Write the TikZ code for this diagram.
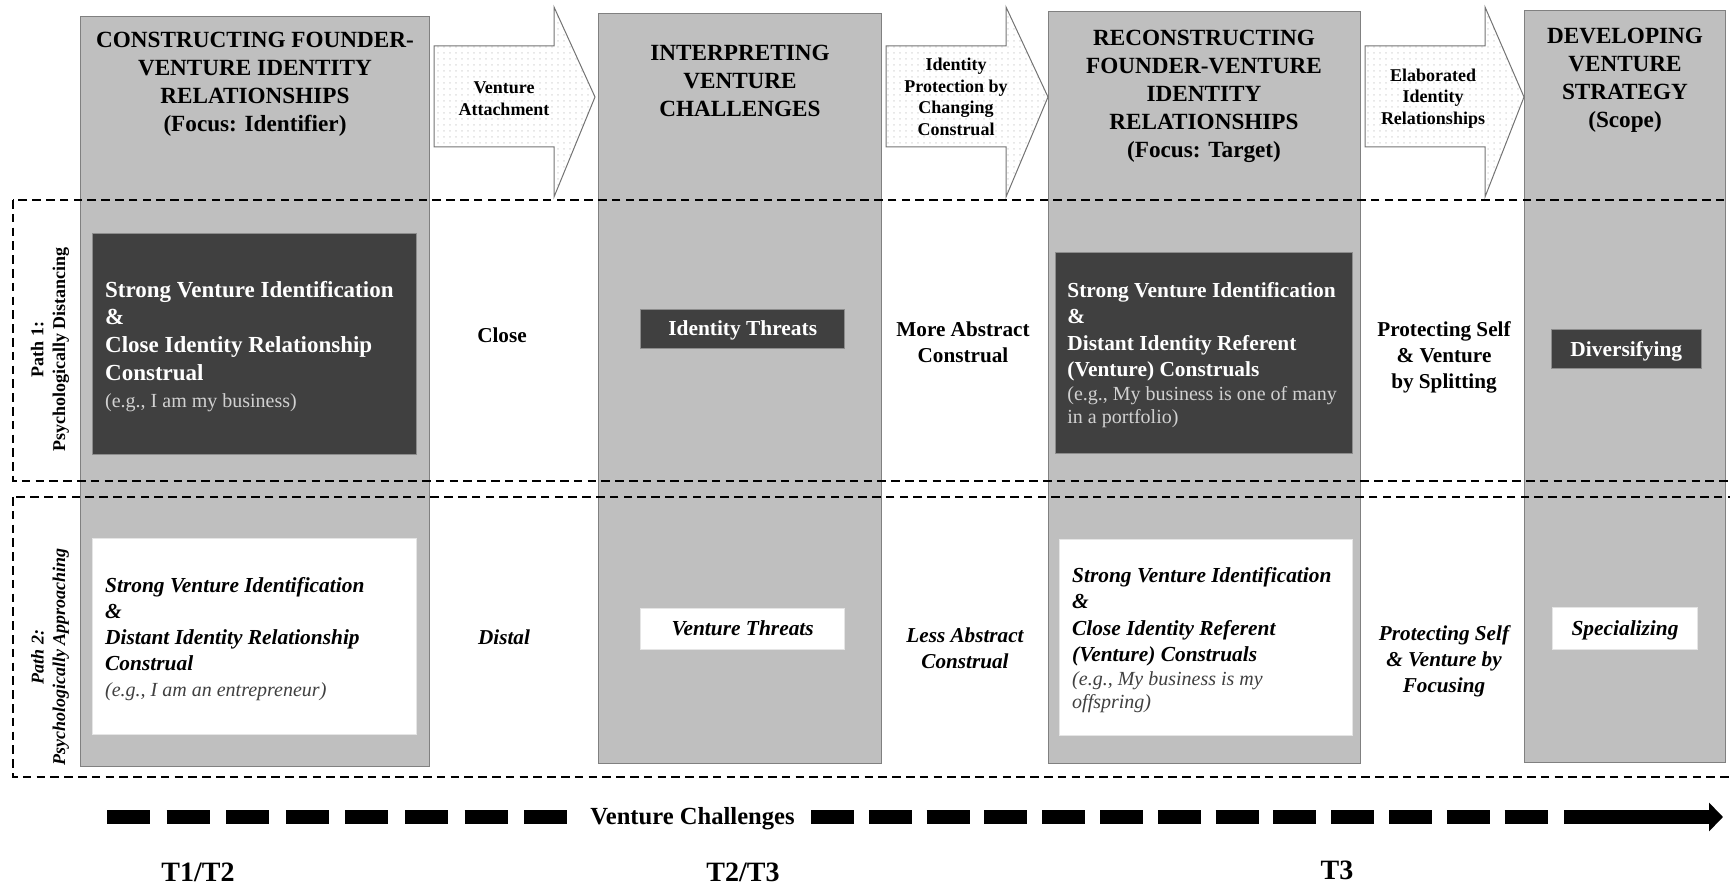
\documentclass[tikz,border=0pt]{standalone}
\usepackage{fontspec}
\setmainfont{Liberation Serif}
\usetikzlibrary{positioning,patterns,arrows.meta}
\setlength{\parindent}{0pt}
\newcommand\plaingaps{\spaceskip=0pt\xspaceskip=0pt\relax}
\definecolor{stagegray}{HTML}{BFBFBF}
\definecolor{cellgray}{HTML}{404040}

\begin{document}
\begin{tikzpicture}[x=0.5pt,y=-0.5pt,
    stage/.style={draw=black!50, fill=stagegray, line width=0.5pt},
    stagetitle/.style={font=\bfseries\fontsize{11.6}{14}\selectfont, align=center},
    flow/.style={draw=black!55, line width=0.5pt, pattern=dots, pattern color=black!12},
    flowtext/.style={font=\bfseries\fontsize{9}{10.8}\selectfont, align=center},
    pathbox/.style={draw, line width=0.6pt, dash pattern=on 4.3pt off 2.6pt},
    pathlabel/.style={rotate=90, font=\bfseries\fontsize{9}{10.8}\selectfont, align=center},
    darkcell/.style={fill=cellgray, draw=black!45, text=white, anchor=north west, align=left, inner xsep=6.4pt},
    lightcell/.style={fill=white, draw=black!10, anchor=north west, align=left, inner xsep=6.4pt},
    darktag/.style={fill=cellgray, draw=black!45, text=white, text depth=0pt, font=\bfseries\fontsize{10.7}{13}\selectfont},
    lighttag/.style={fill=white, draw=black!10, text depth=0pt, font=\bfseries\itshape\fontsize{10.7}{13}\selectfont},
    between/.style={font=\bfseries\fontsize{10.6}{13}\selectfont, align=center},
    timeline/.style={line width=7pt, dash pattern=on 21.5pt off 8.3pt},
    period/.style={font=\bfseries\fontsize{14}{16}\selectfont}]

    \useasboundingbox (0,0) rectangle (1730,887);

    % stages
    \draw[stage] (80.5,16.5) rectangle (429.5,766);
    \draw[stage] (598,14) rectangle (881.5,763);
    \draw[stage] (1048,12) rectangle (1360,763);
    \draw[stage] (1524.5,10.5) rectangle (1725,762);

    \node[stagetitle] (t1) at (255,84) {CONSTRUCTING FOUNDER-\\VENTURE IDENTITY\\RELATIONSHIPS\\(Focus: Identifier)};
    \node[stagetitle] (t2) at (740,80.5) {INTERPRETING\\VENTURE\\CHALLENGES};
    \node[stagetitle] (t3) at (1204,96.5) {RECONSTRUCTING\\FOUNDER-VENTURE\\IDENTITY\\RELATIONSHIPS\\(Focus: Target)};
    \node[stagetitle] (t4) at (1625,80) {DEVELOPING\\VENTURE\\STRATEGY\\(Scope)};

    % block arrows between stages
    \foreach \xa/\xb/\xc in {434/554/595, 886/1006/1048, 1365/1485/1524}
        \draw[flow] (\xa,46) -- (\xb,46) -- (\xb,7) -- (\xc,97) -- (\xb,197) -- (\xb,147) -- (\xa,147) -- cycle;
    \node[flowtext] (va) at (504,99) {Venture\\Attachment};
    \node[flowtext] (ip) at (956,97) {Identity\\Protection by\\Changing\\Construal};
    \node[flowtext] (er) at (1433,98.5) {Elaborated\\Identity\\Relationships};

    % the two paths
    \draw[pathbox] (13,200) rectangle (1740,481);
    \draw[pathbox] (13,497) rectangle (1740,777);
    \node[pathlabel] (p1) at (50,349.5) {Path 1:\\Psychologically Distancing};
    \node[pathlabel, font=\bfseries\itshape\fontsize{9}{10.8}\selectfont] (p2) at (50,657) {Path 2:\\Psychologically Approaching};

    % path 1
    \node[darkcell, text width=149.2pt, minimum height=110.5pt, text height=10.7pt, font=\bfseries\fontsize{11.5}{13.8}\selectfont] (d1) at (92,233)
        {\plaingaps Strong Venture Identification\\ \&\\ Close Identity Relationship\\ Construal\\ {\mdseries\fontsize{10}{13.8}\selectfont\color{white!82!black}(e.g., I am my business)}};
    \node[between] (close) at (502,335) {Close};
    \node[darktag, minimum width=102pt, minimum height=19.5pt] (d2) at (742.7,328.5) {Identity Threats};
    \node[between] (mac) at (963,342) {More Abstract\\Construal};
    \node[darkcell, text width=136pt, minimum height=100.5pt, text height=10pt, font=\bfseries\fontsize{10.7}{13.2}\selectfont, inner xsep=6.25pt] (d3) at (1054.5,252)
        {\plaingaps Strong Venture Identification\\ \&\\ Distant Identity Referent\\ (Venture) Construals\par
        {\mdseries\fontsize{10}{11.8}\selectfont\leavevmode\color{white!82!black}(e.g., My business is one of many\\ in a portfolio)\par}};
    \node[between] (split) at (1444,357) {Protecting Self\\\& Venture\\by Splitting};
    \node[darktag, minimum width=75pt, minimum height=19.5pt] (d4) at (1626.3,348.8) {Diversifying};

    % path 2
    \node[lightcell, text width=149.2pt, minimum height=98pt, text height=10.7pt, font=\bfseries\itshape\fontsize{10.7}{13}\selectfont] (w1) at (92,538)
        {\plaingaps Strong Venture Identification\\ \&\\ Distant Identity Relationship\\ Construal\\ {\mdseries\fontsize{10}{13}\selectfont\color{black!75}(e.g., I am an entrepreneur)}};
    \node[between, font=\bfseries\itshape\fontsize{10.6}{13}\selectfont] (distal) at (504,637) {Distal};
    \node[lighttag, minimum width=102pt, minimum height=20.5pt] (w2) at (742.7,628.5) {Venture Threats};
    \node[between, font=\bfseries\itshape\fontsize{10.6}{13}\selectfont] (lac) at (965,648) {Less Abstract\\Construal};
    \node[lightcell, text width=133.5pt, minimum height=98pt, text height=10.5pt, font=\bfseries\itshape\fontsize{10.7}{13.2}\selectfont] (w3) at (1059,539)
        {\plaingaps Strong Venture Identification\\ \&\\ Close Identity Referent\\ (Venture) Construals\par
        {\mdseries\fontsize{10}{11.8}\selectfont\leavevmode\color{black!75}(e.g., My business is my\\ offspring)\par}};
    \node[between, font=\bfseries\itshape\fontsize{10.6}{13}\selectfont] (focus) at (1444,661) {Protecting Self\\\& Venture by\\Focusing};
    \node[lighttag, minimum width=72.5pt, minimum height=21pt] (w4) at (1625,628) {Specializing};

    % timeline
    \coordinate (tl1) at (107,817);
    \coordinate (tl2) at (570,817);
    \coordinate (tl3) at (811,817);
    \coordinate (tl4) at (1548,817);
    \coordinate (tl5) at (1564,817);
    \coordinate (tl6) at (1723,817);
    \draw[timeline] (tl1) -- (tl2);
    \draw[timeline, dash pattern=on 21.5pt off 7.4pt] (tl3) -- (tl4);
    \draw[line width=7pt, -{Triangle[length=7pt,width=14pt]}] (tl5) -- (tl6);
    \node[font=\bfseries\fontsize{12.3}{14}\selectfont] (vc) at (692.5,819) {Venture Challenges};

    \node[period] (T12) at (198,872) {T1/T2};
    \node[period] (T23) at (743,872) {T2/T3};
    \node[period] (T3) at (1337,870) {T3};
\end{tikzpicture}
\end{document}
